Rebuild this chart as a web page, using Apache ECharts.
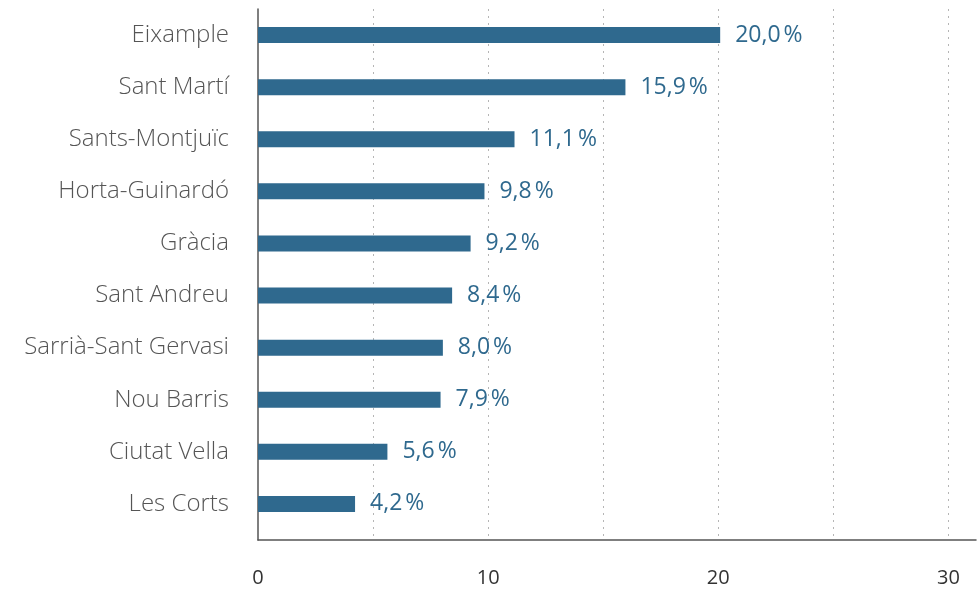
<!DOCTYPE html>
<html>
<head>
<meta charset="utf-8">
<script src="https://cdn.jsdelivr.net/npm/echarts@6/dist/echarts.min.js"></script>
<style>
  html, body { margin: 0; padding: 0; background: #fff; }
  #chart { width: 979px; height: 592px; }
</style>
</head>
<body>
<div id="chart"></div>
<script>
// Districtes i percentatge de cada un
const districts = ['Eixample', 'Sant Martí', 'Sants-Montjuïc', 'Horta-Guinardó', 'Gràcia',
  'Sant Andreu', 'Sarrià-Sant Gervasi', 'Nou Barris', 'Ciutat Vella', 'Les Corts'];
const shares = [20.0, 15.9, 11.1, 9.8, 9.2, 8.4, 8.0, 7.9, 5.6, 4.2];
const labelledTicks = [0, 10, 20, 30];

const AXIS_MAX = 31.2;
const BLUE = '#2f698e';
const FONT = '"Open Sans", "Noto Sans", sans-serif';

const chart = echarts.init(document.getElementById('chart'), null, { renderer: 'canvas' });

const fmtPct = v => v.toFixed(1).replace('.', ',') + '\u202f%';

chart.setOption({
  animation: false,
  grid: [
    { left: 258, right: 0, top: 9, bottom: 62 },
    { left: 258, right: 0, top: 9, bottom: 52 }
  ],
  xAxis: [
    { gridIndex: 0, type: 'value', min: 0, max: AXIS_MAX, show: false },
    {
      gridIndex: 1, type: 'value', min: 0, max: AXIS_MAX, interval: 5,
      axisLine: { show: true, lineStyle: { color: '#555', width: 1.5 } },
      axisTick: { show: false },
      splitLine: {
        show: true, showMinLine: false, showMaxLine: false,
        lineStyle: { color: '#b5b5b5', type: [2, 5], width: 1 }
      },
      axisLabel: {
        margin: 28, fontSize: 20, color: '#333', fontFamily: FONT,
        formatter: v => (labelledTicks.indexOf(v) >= 0 ? String(v) : '')
      }
    }
  ],
  yAxis: [
    {
      gridIndex: 0, type: 'category', inverse: true, data: districts,
      axisLine: { show: false }, axisTick: { show: false },
      axisLabel: { margin: 29, fontSize: 24, fontWeight: 300, color: '#555', fontFamily: FONT }
    },
    {
      gridIndex: 1, type: 'value', min: 0, max: 1,
      axisLine: { show: true, lineStyle: { color: '#555', width: 1.5 } },
      axisTick: { show: false }, axisLabel: { show: false }, splitLine: { show: false }
    }
  ],
  series: [{
    type: 'bar',
    xAxisIndex: 0, yAxisIndex: 0,
    data: shares,
    barWidth: 16,
    itemStyle: { color: BLUE },
    label: {
      show: true, position: 'right', distance: 15,
      fontSize: 23, color: BLUE, fontFamily: FONT,
      formatter: p => fmtPct(p.value)
    }
  }]
});
</script>
</body>
</html>
